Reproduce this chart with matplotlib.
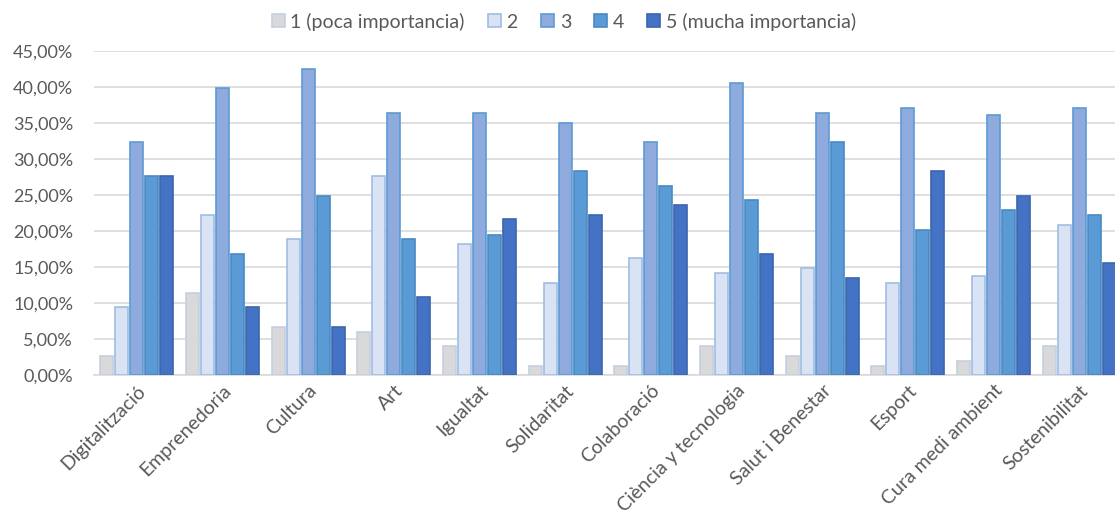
import matplotlib
matplotlib.use("Agg")
import matplotlib.pyplot as plt
from matplotlib.ticker import FuncFormatter, MultipleLocator
import numpy as np

plt.rcParams['font.family'] = ['Lato', 'DejaVu Sans']

# categories and series (percent of responses)
categories = ['Digitalització', 'Emprenedoria', 'Cultura', 'Art', 'Igualtat',
              'Solidaritat', 'Colaboració', 'Ciència y tecnologia',
              'Salut i Benestar', 'Esport', 'Cura medi ambient', 'Sostenibilitat']
series_names = ['1 (poca importancia)', '2', '3', '4', '5 (mucha importancia)']
imp1 = [2.7, 11.4, 6.7, 6.0, 4.0, 1.3, 1.3, 4.0, 2.7, 1.3, 1.9, 4.0]
imp2 = [9.5, 22.2, 18.9, 27.7, 18.2, 12.8, 16.2, 14.1, 14.8, 12.8, 13.8, 20.8]
imp3 = [32.4, 39.8, 42.5, 36.4, 36.4, 35.0, 32.3, 40.5, 36.4, 37.1, 36.1, 37.1]
imp4 = [27.7, 16.8, 24.9, 18.9, 19.5, 28.3, 26.3, 24.3, 32.3, 20.2, 22.9, 22.2]
imp5 = [27.7, 9.4, 6.7, 10.8, 21.6, 22.2, 23.6, 16.8, 13.5, 28.3, 24.9, 15.5]

faces = ['#d9d9d9', '#dae3f3', '#8faadc', '#5b9bd5', '#4472c4']
edges = ['#c3cfe2', '#9fbde4', '#5b9bd5', '#4a89c4', '#3b65ae']

fig = plt.figure(figsize=(11.15, 5.25), dpi=100)
ax = fig.add_axes([94 / 1115, 1 - 375 / 525, 1028 / 1115, 324 / 525])

x = np.arange(len(categories))
slot = 0.175
width = 0.152
for i, vals in enumerate([imp1, imp2, imp3, imp4, imp5]):
    ax.bar(x + (i - 2) * slot, vals, width, color=faces[i], edgecolor=edges[i],
           linewidth=1.2, label=series_names[i], zorder=3)

ax.set_xlim(-0.5, len(categories) - 0.5)
ax.set_ylim(0, 45)
ax.yaxis.set_major_locator(MultipleLocator(5))
ax.yaxis.set_major_formatter(FuncFormatter(lambda v, p: f"{v:.2f}%".replace('.', ',')))
ax.grid(axis='y', color='#d9d9d9', linewidth=1.2, zorder=0)
for s in ['top', 'right', 'left']:
    ax.spines[s].set_visible(False)
ax.spines['bottom'].set_color('#d9d9d9')
ax.spines['bottom'].set_linewidth(1.2)
ax.tick_params(axis='both', length=0, colors='#595959')
ax.tick_params(axis='y', pad=15, labelsize=13)
ax.tick_params(axis='x', pad=5, labelsize=14)
ax.set_xticks(x)
ax.set_xticklabels(categories, rotation=45, ha='right', rotation_mode='anchor')

fig.legend(loc='upper center', bbox_to_anchor=(564 / 1115, 1.0), ncol=5, frameon=False,
           fontsize=14, labelcolor='#595959', handlelength=0.65, handleheight=0.65,
           handletextpad=0.3, columnspacing=1.2, borderaxespad=0.25)

fig.savefig('out.png', dpi=100)
